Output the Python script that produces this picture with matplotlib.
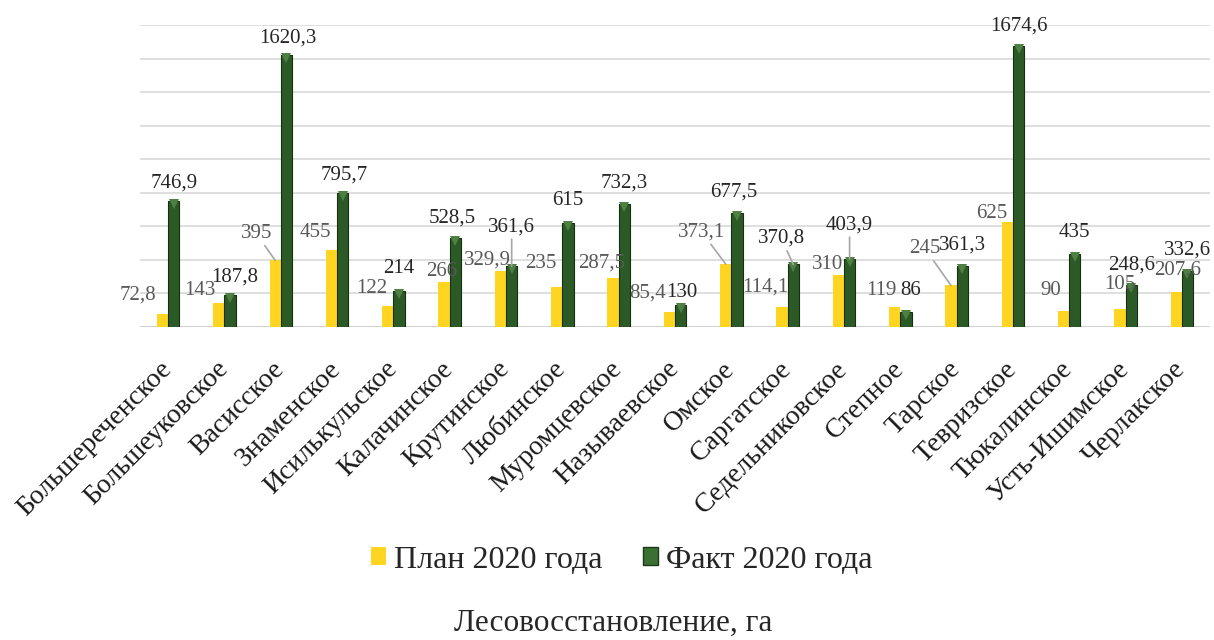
import numpy as np
import matplotlib
matplotlib.use("Agg")
import matplotlib.pyplot as plt
from matplotlib.patches import Patch
from matplotlib.transforms import ScaledTranslation

plt.rcParams['font.family'] = ['Liberation Serif', 'DejaVu Serif']

# Данные
районы = ["Большереченское", "Большеуковское", "Васисское", "Знаменское",
          "Исилькульское", "Калачинское", "Крутинское", "Любинское",
          "Муромцевское", "Называевское", "Омское", "Саргатское",
          "Седельниковское", "Степное", "Тарское", "Тевризское",
          "Тюкалинское", "Усть-Ишимское", "Черлакское"]
план = [72.8, 143, 395, 455, 122, 266, 329.9, 235, 287.5, 85.4,
        373.1, 114.1, 310, 119, 245, 625, 90, 105, 207.6]
факт = [746.9, 187.8, 1620.3, 795.7, 214, 528.5, 361.6, 615, 732.3, 130,
        677.5, 370.8, 403.9, 86, 361.3, 1674.6, 435, 248.6, 332.6]

# Смещения подписей (пиксели) относительно верха столбца
сдвиг_план = [(-25, 19), (-19, 12), (-19, 27), (-16, 18), (-16, 18), (-2, 10),
              (-13, 11), (-16, 24), (-11, 15), (-22, 19), (-24, 32), (-17, 20),
              (-11, 10), (-13, 16), (-26, 37), (-16, 8), (-13, 21), (0, 24), (1, 22)]
сдвиг_факт = [(0, 18), (5, 18), (1, 17), (2, 18), (0, 22), (-3, 20), (0, 39),
              (0, 23), (0, 21), (1, 12), (-3, 21), (-12, 26), (0, 34), (5, 22),
              (0, 21), (0, 20), (0, 21), (0, 20), (0, 21)]
выноски_план = [2, 10, 14]
выноски_факт = [6, 11, 12]

ЖЁЛТЫЙ = '#FFD522'
ЗЕЛЁНЫЙ = '#2C5A26'

def fmt(v):
    s = f"{v:g}"
    return s.replace('.', ',')

fig = plt.figure(figsize=(12.14, 6.4), dpi=100)
ax = fig.add_axes([140 / 1214, 1 - 326.5 / 640, 1070 / 1214, 301.5 / 640])

x = np.arange(len(районы))
w = 0.2
ax.bar(x - w / 2, план, w, color=ЖЁЛТЫЙ, zorder=3)
ax.bar(x + w / 2, факт, w, color=ЗЕЛЁНЫЙ, edgecolor='#15300F', linewidth=0.8, zorder=3)
# светлая фаска сверху зелёных столбцов
фаска = ScaledTranslation(0, -3 / 100, fig.dpi_scale_trans)
ax.plot(x + w / 2, факт, linestyle='none', marker='v', markersize=7,
        color='#4F8043', markeredgewidth=0, zorder=4,
        transform=ax.transData + фаска)

ax.set_xlim(-0.5, len(районы) - 0.5)
ax.set_ylim(0, 1800)
ax.set_yticks(np.arange(0, 1801, 200))
ax.yaxis.grid(True, color='#D9D9D9', linewidth=1.2, zorder=0)
ax.set_yticklabels([])
ax.tick_params(axis='y', length=0)
for s in ax.spines.values():
    s.set_visible(False)
ax.axhline(0, color='#D0D0D0', linewidth=2, zorder=2)

ax.set_xticks(x)
ax.set_xticklabels(районы, rotation=45, ha='right', va='top',
                   rotation_mode='anchor', fontsize=20, color='#1A1A1A')
ax.tick_params(axis='x', length=0, pad=0)
off = ScaledTranslation(-9 / 100, -30 / 100, fig.dpi_scale_trans)
for lbl in ax.get_xticklabels():
    lbl.set_transform(lbl.get_transform() + off)

# Подписи значений
for i in range(len(районы)):
    arr = dict(arrowstyle='-', color='#A6A6A6', lw=1.2, shrinkA=0, shrinkB=0) if i in выноски_план else None
    ax.annotate(fmt(план[i]), xy=(x[i] - w / 2, план[i]), xytext=сдвиг_план[i],
                textcoords='offset pixels', ha='center', va='center',
                fontsize=15, color='#595959', arrowprops=arr, zorder=5)
    arr = dict(arrowstyle='-', color='#A6A6A6', lw=1.2, shrinkA=0, shrinkB=0) if i in выноски_факт else None
    ax.annotate(fmt(факт[i]), xy=(x[i] + w / 2, факт[i]), xytext=сдвиг_факт[i],
                textcoords='offset pixels', ha='center', va='center',
                fontsize=15, color='#262626', arrowprops=arr, zorder=6)

handles = [Patch(facecolor=ЖЁЛТЫЙ), Patch(facecolor='#3B7033', edgecolor='#1B3A18')]
fig.legend(handles, ["План 2020 года", "Факт 2020 года"], loc='center',
           bbox_to_anchor=(622 / 1214, 1 - 560 / 640), ncol=2, frameon=False,
           fontsize=23, handlelength=0.47, handleheight=0.47,
           handletextpad=0.25, columnspacing=1.28, labelcolor='#262626')

fig.text(613 / 1214, 1 - 631 / 640, "Лесовосстановление, га", ha='center',
         va='baseline', fontsize=22.5, color='#262626')

fig.savefig('out.png', dpi=100)
